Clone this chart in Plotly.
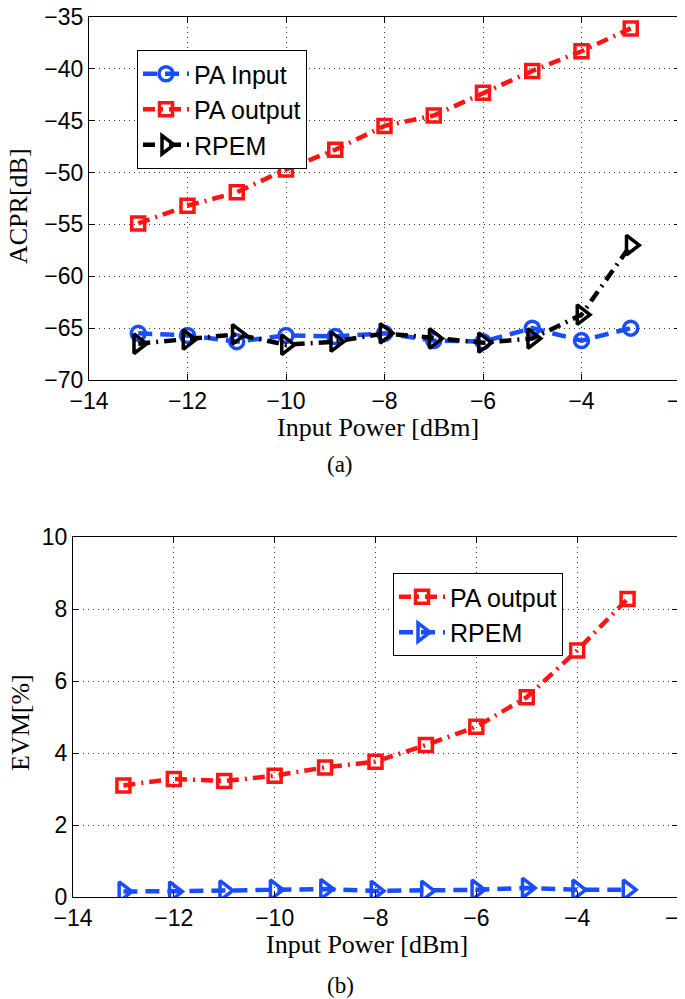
import plotly.graph_objects as go
from plotly.subplots import make_subplots

# input power sweep (dBm)
input_power = [-13, -12, -11, -10, -9, -8, -7, -6, -5, -4, -3]

# (a) ACPR in dB
acpr_pa_input = [-65.5, -65.7, -66.3, -65.7, -65.8, -65.5, -66.2, -66.3, -65.0, -66.2, -65.0]
acpr_pa_output = [-54.9, -53.2, -51.9, -49.7, -47.8, -45.5, -44.5, -42.3, -40.2, -38.3, -36.1]
acpr_rpem = [-66.5, -66.1, -65.6, -66.6, -66.3, -65.5, -66.0, -66.4, -66.0, -63.7, -57.0]

# (b) EVM in %
evm_pa_output = [3.1, 3.28, 3.22, 3.37, 3.6, 3.76, 4.22, 4.73, 5.55, 6.85, 8.28]
evm_rpem = [0.15, 0.15, 0.18, 0.2, 0.22, 0.17, 0.17, 0.2, 0.25, 0.2, 0.2]

BLUE = '#1a4dff'
RED = '#ff1414'
BLACK = '#000000'
SANS = 'Liberation Sans, Arial, sans-serif'
SERIF = 'Liberation Serif, Times New Roman, serif'
DASH = '14px,8px'
DASHDOT = '12px,6px,2px,6px'

# the page body has an 8px margin, so the figure is a bit smaller than the window
PAGE_OFF = 8
W, H = 685 - PAGE_OFF, 999 - PAGE_OFF

def fx(px):
    return (px - PAGE_OFF) / W

def fy(py):
    return 1 - (py - PAGE_OFF) / H

fig = make_subplots(rows=2, cols=1)

def add_line(y, name, color, dash, symbol, size, row, legend):
    fig.add_trace(go.Scatter(
        x=input_power, y=y, name=name, mode='lines+markers',
        line=dict(color=color, width=4.5, dash=dash),
        marker=dict(symbol=symbol, size=size, color=color,
                    line=dict(color=color, width=3.5)),
        legend=legend,
    ), row=row, col=1)

add_line(acpr_pa_input, 'PA Input', BLUE, DASH, 'circle-open', 14, 1, 'legend')
add_line(acpr_pa_output, 'PA output', RED, DASHDOT, 'square-open', 13, 1, 'legend')
add_line(acpr_rpem, 'RPEM', BLACK, DASHDOT, 'triangle-right-open', 17, 1, 'legend')
add_line(evm_pa_output, 'PA output', RED, DASHDOT, 'square-open', 13, 2, 'legend2')
add_line(evm_rpem, 'RPEM', BLUE, DASH, 'triangle-right-open', 17, 2, 'legend2')

axis_style = dict(
    automargin=False, ticklabeloverflow='allow',
    showline=True, linecolor='black', linewidth=1.2, mirror='ticks',
    ticks='inside', ticklen=6, tickcolor='black',
    showgrid=True, gridcolor='#333333', griddash='1px,4px', gridwidth=1,
    zeroline=False, tickfont=dict(family=SANS, size=23, color='black'),
)

fig.update_xaxes(**axis_style)
fig.update_yaxes(**axis_style)

title_font = dict(family=SERIF, size=26, color='black')
cap_font = dict(family=SERIF, size=23, color='black')
legend_style = dict(xanchor='left', yanchor='top',
                    bgcolor='white', bordercolor='black', borderwidth=1,
                    font=dict(family=SANS, size=25, color='black'),
                    itemwidth=46, tracegroupgap=0)

def label(text, px, py, font, angle=0):
    return dict(text=text, x=fx(px), y=fy(py), xref='paper', yref='paper',
                xanchor='center', yanchor='middle', textangle=angle,
                showarrow=False, font=font)

fig.update_layout(
    width=W, height=H,
    margin=dict(l=0, r=0, t=0, b=0),
    paper_bgcolor='white', plot_bgcolor='white',
    xaxis=dict(domain=[fx(89), fx(680)], range=[-14, -2], dtick=2),
    yaxis=dict(domain=[fy(380), fy(17)], range=[-70, -35], dtick=5),
    xaxis2=dict(domain=[fx(73), fx(678)], range=[-14, -2], dtick=2),
    yaxis2=dict(domain=[fy(897), fy(537)], range=[0, 10], dtick=2),
    legend=dict(x=fx(137), y=fy(50), **legend_style),
    legend2=dict(x=fx(393), y=fy(573), **legend_style),
    annotations=[
        label('Input Power [dBm]', 378, 428, title_font),
        label('ACPR[dB]', 18, 206, title_font, -90),
        label('(a)', 340, 465, cap_font),
        label('Input Power [dBm]', 367, 944, title_font),
        label('EVM[%]', 20, 723, title_font, -90),
        label('(b)', 340, 985, cap_font),
    ],
)

fig.write_html("out.html")
